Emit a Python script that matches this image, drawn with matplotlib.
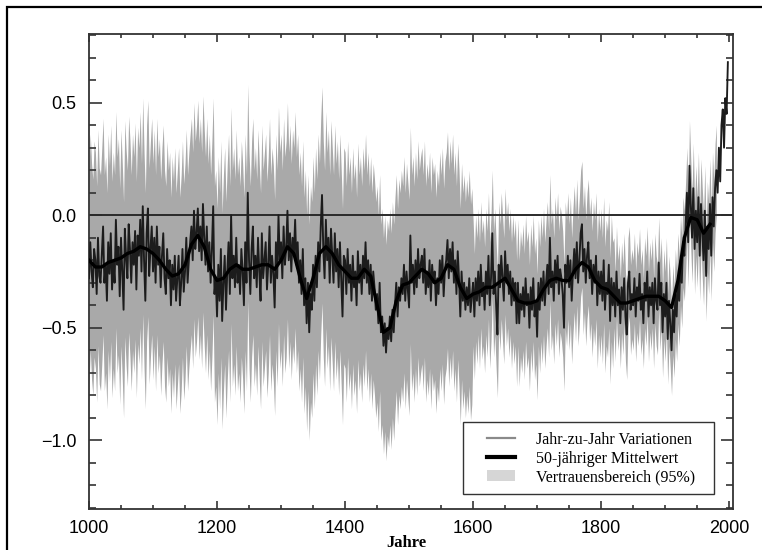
import numpy as np
import matplotlib
matplotlib.use('Agg')
import matplotlib.pyplot as plt
from matplotlib.lines import Line2D
from matplotlib.patches import Patch, Rectangle
from matplotlib.ticker import MultipleLocator, FuncFormatter

# ---- data (2-year steps) ----
years = np.arange(1000, 2000, 2)

c1000 = [-0.28, -0.12, -0.25, -0.32, -0.15, -0.20, -0.35, -0.10, -0.27, -0.30,
         -0.18, -0.05, -0.30, -0.22, -0.38, -0.12, -0.26, -0.08, -0.33, -0.20,
         -0.30, -0.02, -0.22, -0.14, -0.36, -0.10, -0.25, -0.42, -0.06, -0.19,
         -0.28, -0.04, -0.15, -0.30, -0.12, -0.22, -0.07, -0.33, -0.09, -0.18,
         -0.02, -0.25, 0.04, -0.20, -0.38, -0.08, 0.03, -0.27, -0.15, -0.05]
c1100 = [-0.25, -0.10, -0.30, -0.05, -0.22, -0.14, -0.32, -0.18, -0.08, -0.28,
         -0.35, -0.15, -0.28, -0.20, -0.40, -0.22, -0.33, -0.18, -0.38, -0.28,
         -0.18, -0.40, -0.30, -0.15, -0.34, -0.25, -0.10, -0.30, -0.20, -0.12,
         -0.05, -0.20, 0.02, -0.15, -0.08, 0.03, -0.16, -0.05, -0.20, 0.05,
         -0.10, -0.22, -0.05, -0.25, -0.12, -0.30, -0.15, 0.04, -0.35, -0.28]
c1200 = [-0.45, -0.22, -0.38, -0.15, -0.47, -0.30, -0.18, -0.42, -0.25, -0.12,
         -0.35, 0.00, -0.28, -0.18, -0.32, -0.10, -0.30, -0.22, -0.35, -0.15,
         -0.25, -0.40, -0.12, -0.30, 0.10, -0.20, -0.35, -0.15, -0.05, -0.28,
         -0.18, -0.32, -0.10, -0.25, -0.38, -0.08, -0.28, -0.20, -0.12, -0.33,
         -0.22, -0.05, -0.30, -0.18, -0.26, -0.41, -0.12, -0.28, 0.00, -0.20]
c1300 = [-0.12, -0.28, -0.05, -0.22, -0.15, 0.02, -0.20, -0.08, -0.25, -0.10,
         -0.18, -0.02, -0.22, -0.12, -0.30, -0.20, -0.35, -0.15, -0.40, -0.28,
         -0.48, -0.30, -0.52, -0.35, -0.42, -0.22, -0.38, -0.18, -0.32, -0.12,
         -0.25, -0.05, 0.09, -0.15, -0.28, -0.02, -0.20, -0.10, -0.30, -0.06,
         -0.18, -0.30, -0.08, -0.25, -0.15, -0.32, -0.12, -0.28, -0.45, -0.18]
c1400 = [-0.20, -0.35, -0.15, -0.30, -0.22, -0.38, -0.18, -0.32, -0.25, -0.40,
         -0.16, -0.30, -0.22, -0.35, -0.18, -0.28, -0.12, -0.30, -0.20, -0.35,
         -0.22, -0.38, -0.25, -0.32, -0.42, -0.35, -0.48, -0.30, -0.52, -0.45,
         -0.58, -0.48, -0.61, -0.50, -0.55, -0.45, -0.56, -0.42, -0.52, -0.40,
         -0.30, -0.45, -0.32, -0.38, -0.28, -0.35, -0.22, -0.38, -0.25, -0.33]
c1500 = [-0.41, -0.09, -0.30, -0.22, -0.35, -0.20, -0.32, -0.15, -0.28, -0.22,
         -0.18, -0.30, -0.15, -0.35, -0.25, -0.32, -0.20, -0.38, -0.22, -0.30,
         -0.25, -0.40, -0.28, -0.35, -0.20, -0.30, -0.18, -0.36, -0.24, -0.20,
         -0.11, -0.28, -0.15, -0.25, -0.12, -0.30, -0.20, -0.35, -0.16, -0.28,
         -0.45, -0.25, -0.38, -0.30, -0.42, -0.32, -0.40, -0.28, -0.43, -0.36]
c1600 = [-0.30, -0.45, -0.28, -0.38, -0.25, -0.40, -0.22, -0.36, -0.30, -0.42,
         -0.25, -0.35, -0.18, -0.40, -0.28, -0.08, -0.35, -0.25, -0.40, -0.53,
         -0.22, -0.32, -0.18, -0.28, -0.38, -0.16, -0.30, -0.22, -0.35, -0.25,
         -0.40, -0.28, -0.38, -0.30, -0.48, -0.30, -0.48, -0.35, -0.42, -0.32,
         -0.45, -0.28, -0.40, -0.35, -0.50, -0.32, -0.42, -0.28, -0.45, -0.38]
c1700 = [-0.54, -0.30, -0.42, -0.28, -0.38, -0.25, -0.40, -0.30, -0.22, -0.35,
         -0.10, -0.32, -0.25, -0.38, -0.20, -0.30, -0.18, -0.35, -0.24, -0.28,
         -0.35, -0.50, -0.22, -0.30, -0.18, -0.32, -0.20, -0.38, -0.25, -0.15,
         -0.28, -0.12, -0.30, -0.20, -0.08, -0.04, -0.25, -0.15, -0.30, -0.18,
         -0.12, -0.28, -0.20, -0.35, -0.22, -0.30, -0.18, -0.40, -0.25, -0.35]
c1800 = [-0.25, -0.38, -0.20, -0.42, -0.30, -0.35, -0.22, -0.47, -0.28, -0.40,
         -0.30, -0.45, -0.25, -0.40, -0.33, -0.48, -0.32, -0.42, -0.28, -0.45,
         -0.53, -0.30, -0.25, -0.42, -0.35, -0.40, -0.28, -0.45, -0.32, -0.38,
         -0.26, -0.42, -0.35, -0.48, -0.30, -0.38, -0.25, -0.45, -0.32, -0.40,
         -0.30, -0.48, -0.28, -0.38, -0.42, -0.21, -0.40, -0.30, -0.52, -0.35]
c1900 = [-0.45, -0.30, -0.55, -0.38, -0.48, -0.60, -0.42, -0.52, -0.35, -0.45,
         -0.28, -0.38, -0.20, -0.30, -0.12, -0.18, -0.05, 0.10, -0.12, 0.22,
         0.05, -0.10, 0.12, -0.15, 0.02, -0.12, 0.08, -0.18, 0.05, -0.08,
         -0.20, 0.02, -0.27, -0.05, -0.15, 0.05, -0.18, 0.08, -0.05, 0.12,
         0.20, 0.10, 0.30, 0.15, 0.40, 0.47, 0.30, 0.52, 0.45, 0.68]

annual = np.array(c1000 + c1100 + c1200 + c1300 + c1400 + c1500 +
                  c1600 + c1700 + c1800 + c1900)

smooth_years = np.arange(1000, 1971, 10)
smooth_vals = [-0.20, -0.23, -0.23, -0.21, -0.20, -0.19, -0.17, -0.16, -0.14, -0.15,
               -0.17, -0.20, -0.24, -0.27, -0.26, -0.22, -0.13, -0.09, -0.14, -0.24,
               -0.29, -0.28, -0.24, -0.22, -0.24, -0.24, -0.23, -0.22, -0.22, -0.24,
               -0.20, -0.14, -0.17, -0.28, -0.37, -0.28, -0.17, -0.14, -0.17, -0.22,
               -0.25, -0.28, -0.28, -0.24, -0.27, -0.40, -0.52, -0.50, -0.38, -0.31,
               -0.30, -0.27, -0.24, -0.26, -0.30, -0.28, -0.22, -0.24, -0.32, -0.37,
               -0.35, -0.34, -0.32, -0.32, -0.30, -0.28, -0.33, -0.38, -0.39, -0.39,
               -0.38, -0.33, -0.29, -0.28, -0.29, -0.29, -0.24, -0.21, -0.23, -0.29,
               -0.32, -0.33, -0.36, -0.39, -0.39, -0.38, -0.37, -0.36, -0.36, -0.36,
               -0.38, -0.41, -0.29, -0.10, -0.01, -0.02, -0.08, -0.04]

band_starts = [1000, 1600, 1820]
band_halfwidths = [0.48, 0.28, 0.20]
band_end = 1980

x_ticks = [1000, 1200, 1400, 1600, 1800, 2000]
y_ticks = [-1.0, -0.5, 0.0, 0.5]
legend_labels = ["Jahr-zu-Jahr Variationen", "50-jähriger Mittelwert",
                 "Vertrauensbereich (95%)"]
xlabel = "Jahre"

# ---- figure ----
W, H = 762, 550
fig = plt.figure(figsize=(W / 100, H / 100), dpi=100)
ax = fig.add_axes([89 / W, 1 - 509 / H, (733 - 89) / W, (509 - 34) / H])

hw = np.array(band_halfwidths)[np.searchsorted(band_starts, years, side='right') - 1]
m = years <= band_end
ax.fill_between(years[m], annual[m] - hw[m], annual[m] + hw[m],
                color='#a9a9a9', lw=0, zorder=1)
ax.axhline(0.0, color='#2a2a2a', lw=1.4, zorder=2)
ax.plot(years, annual, color='#1c1c1c', lw=1.35, zorder=3)
ax.plot(smooth_years, smooth_vals, color='black', lw=2.4, zorder=4)

ax.set_xlim(1000, 2006)
ax.set_ylim(-1.305, 0.805)
ax.set_xticks(x_ticks)
ax.set_yticks(y_ticks)
ax.xaxis.set_minor_locator(MultipleLocator(50))
ax.yaxis.set_minor_locator(MultipleLocator(0.1))
ax.tick_params(axis='both', which='both', direction='in', top=True, right=True,
               width=1.2, color='#333333')
ax.tick_params(axis='x', which='major', length=6, pad=8)
ax.tick_params(axis='x', which='minor', length=3)
ax.tick_params(axis='y', which='major', length=9, pad=9)
ax.tick_params(axis='y', which='minor', length=5)
ax.yaxis.set_major_formatter(FuncFormatter(
    lambda v, p: f"{v:.1f}".replace('-', '\u2212')))
for lab in ax.get_xticklabels() + ax.get_yticklabels():
    lab.set_fontfamily('Liberation Sans')
    lab.set_fontsize(13)
for s in ax.spines.values():
    s.set_linewidth(1.3)
    s.set_color('#333333')

fig.text(406.5 / W, 1 - 547 / H, xlabel, fontfamily='Liberation Serif',
         fontweight='bold', fontsize=12, ha='center', va='baseline')

# legend box (frame drawn separately for asymmetric padding)
ax.add_patch(Rectangle((0.5807, 0.0316), 0.3898, 0.1516, transform=ax.transAxes,
                       facecolor='white', edgecolor='#333333', lw=1.0, zorder=9))
handles = [Line2D([], [], color='#8a8a8a', lw=1.6),
           Line2D([], [], color='black', lw=3),
           Patch(facecolor='#d6d6d6', edgecolor='none')]
leg = ax.legend(handles, legend_labels, loc='upper left',
                bbox_to_anchor=((487 - 89) / 644, (509 - 432) / 475),
                borderaxespad=0, borderpad=0,
                prop={'family': 'Liberation Serif', 'size': 11.5},
                frameon=False, handlelength=1.75, handletextpad=1.31,
                labelspacing=0.17)
leg.set_zorder(10)

fig.add_artist(Rectangle((7 / W, -0.1), 2.0, 1 - 7 / H + 0.1,
                         transform=fig.transFigure, fill=False,
                         lw=1.6, edgecolor='black', clip_on=False))

fig.savefig('out.png', dpi=100)
